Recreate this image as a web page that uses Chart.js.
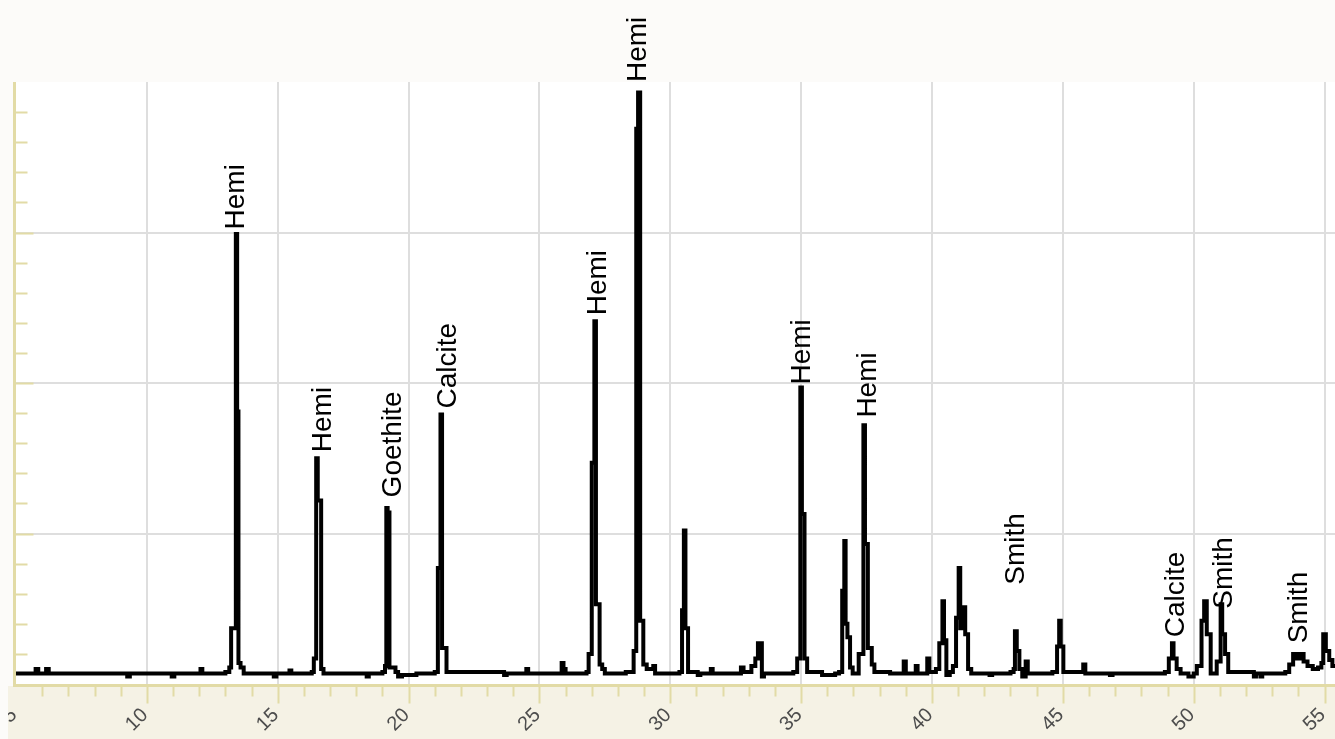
<!DOCTYPE html>
<html>
<head>
<meta charset="utf-8">
<script src="https://cdn.jsdelivr.net/npm/chart.js@4.4.1/dist/chart.umd.min.js"></script>
<style>
  html, body { margin: 0; padding: 0; background: #fcfbf9; }
  #wrap { width: 1335px; height: 739px; }
</style>
</head>
<body>
<div id="wrap"><canvas id="myChart" width="1335" height="739"></canvas></div>
<script>
// 2-theta (deg) where each level starts, and the counts held from there
const twoTheta = [
  5.0, 5.75, 5.85, 6.15, 6.25, 9.25, 9.35, 10.95, 11.05, 12.05, 12.12, 13.0,
  13.15, 13.22, 13.4, 13.45, 13.5, 13.58, 13.7,
  14.85, 14.95, 15.45, 15.52, 16.3,
  16.38, 16.47, 16.53, 16.66, 16.75,
  18.4, 18.48, 19.0,
  19.1, 19.15, 19.2, 19.27, 19.4, 19.5, 19.6, 19.75, 20.3, 21.0,
  21.12, 21.22, 21.28, 21.45,
  23.65, 23.75, 24.5, 24.57, 25.85, 25.92, 26.0, 26.8,
  26.88, 27.0, 27.1, 27.16, 27.3, 27.4, 27.5,
  28.3, 28.6, 28.7, 28.77, 28.85, 28.97, 29.1, 29.35, 29.42,
  30.35, 30.45, 30.52, 30.58, 30.68,
  31.05, 31.15, 31.55, 31.62, 32.7, 32.8,
  33.1, 33.25, 33.35, 33.5, 33.58,
  34.7, 34.85, 34.97, 35.03, 35.13, 35.23,
  35.8, 36.3, 36.45,
  36.57, 36.65, 36.7, 36.77, 36.87, 36.97,
  37.2, 37.38, 37.44, 37.55, 37.7, 37.8,
  38.4, 38.92, 39.0, 39.38, 39.45, 39.82, 39.9,
  40.15, 40.28, 40.4, 40.46, 40.55, 40.68,
  40.8, 40.92, 41.02, 41.08, 41.2, 41.27, 41.38, 41.5,
  42.2, 42.3, 43.0,
  43.12, 43.17, 43.24, 43.34, 43.45, 43.58, 43.66,
  44.6, 44.78, 44.86, 44.92, 45.02,
  45.78, 45.86, 46.8, 46.9, 48.9,
  49.05, 49.17, 49.23, 49.35, 49.5, 49.8, 50.0,
  50.12, 50.3, 50.4, 50.5, 50.65, 50.88, 51.03, 51.09, 51.2, 51.32,
  52.3, 52.38, 52.55, 52.62, 53.5,
  53.65, 53.8, 53.95, 54.1, 54.2, 54.35, 54.55, 54.75, 54.88,
  54.95, 55.05, 55.18, 55.3, 55.4
];
const counts = [
  7, 10, 7, 10, 7, 5, 7, 5, 7, 10, 7, 8,
  11, 37, 299, 181, 14, 11, 7,
  5, 7, 9, 7, 8,
  17, 150, 122, 10, 7,
  5, 7, 8,
  12, 117, 114, 11, 11, 8, 5, 6, 7, 8,
  77, 179, 24, 8,
  6, 7, 10, 7, 14, 10, 7, 8,
  20, 147, 241, 53, 13, 10, 7,
  8, 22, 369, 393, 42, 13, 10, 12, 7,
  8, 49, 102, 37, 8,
  6, 7, 10, 7, 11, 8,
  12, 17, 27, 5, 7,
  8, 17, 197, 113, 17, 8,
  6, 7, 8,
  62, 95, 40, 31, 11, 7,
  20, 172, 93, 24, 13, 8,
  7, 15, 7, 12, 7, 17, 8,
  10, 27, 55, 29, 6, 8,
  12, 44, 77, 37, 51, 33, 10, 7,
  6, 7, 8,
  10, 35, 22, 10, 5, 15, 7,
  8, 25, 42, 25, 8,
  13, 7, 6, 7, 8,
  17, 27, 17, 10, 7, 5, 7,
  12, 42, 55, 33, 7, 15, 53, 33, 20, 8,
  5, 7, 5, 7, 8,
  13, 20, 17, 20, 15, 12, 10, 11, 14,
  33, 22, 16, 12, 12
];

// phase labels: name, 2-theta of label, count level where the text starts
const phaseNames = ['Hemi', 'Hemi', 'Goethite', 'Calcite', 'Hemi', 'Hemi', 'Hemi', 'Hemi', 'Smith', 'Calcite', 'Smith', 'Smith'];
const phaseX = [13.33, 16.65, 19.32, 21.42, 27.15, 28.68, 34.95, 37.47, 43.12, 49.23, 51.07, 53.93];
const phaseY = [302, 154, 124, 183, 245, 400, 199, 177, 66, 31, 50, 27];

const xTickLabels = ['5', '10', '15', '20', '25', '30', '35', '40', '45', '50', '55'];

const AXIS_COLOR = '#e2dba6';

const decorPlugin = {
  id: 'decor',
  beforeDraw(chart) {
    const ctx = chart.ctx;
    const a = chart.chartArea;
    ctx.save();
    ctx.fillStyle = '#fcfbf9';
    ctx.fillRect(0, 0, chart.width, chart.height);
    ctx.fillStyle = '#ffffff';
    ctx.fillRect(a.left, a.top, a.right - a.left, a.bottom - a.top);
    ctx.fillStyle = '#f5f2e5';
    ctx.fillRect(8, a.bottom + 2, chart.width - 8, chart.height - a.bottom);
    ctx.restore();
  },
  afterDatasetsDraw(chart) {
    const ctx = chart.ctx;
    const xs = chart.scales.x;
    const ys = chart.scales.y;
    ctx.save();
    ctx.fillStyle = '#000';
    ctx.font = '28px "Liberation Sans", Arial, sans-serif';
    ctx.textAlign = 'left';
    ctx.textBaseline = 'alphabetic';
    phaseNames.forEach((name, i) => {
      const px = xs.getPixelForValue(phaseX[i]);
      const py = ys.getPixelForValue(phaseY[i]);
      ctx.save();
      ctx.translate(px + 10, py);
      ctx.rotate(-Math.PI / 2);
      ctx.fillText(name, 0, 0);
      ctx.restore();
    });
    ctx.restore();
  },
  afterDraw(chart) {
    const ctx = chart.ctx;
    const a = chart.chartArea;
    const xs = chart.scales.x;
    const ys = chart.scales.y;
    const axisY = a.bottom + 1.5;
    const axisX = a.left - 1.5;
    ctx.save();
    ctx.strokeStyle = AXIS_COLOR;
    ctx.lineWidth = 3;
    ctx.beginPath();
    ctx.moveTo(axisX, a.top);
    ctx.lineTo(axisX, axisY + 1.5);
    ctx.moveTo(axisX - 1.5, axisY);
    ctx.lineTo(chart.width, axisY);
    ctx.stroke();

    // y ticks point into the plot
    ctx.lineWidth = 2;
    ctx.beginPath();
    for (let v = 20; v < 400; v += 20) {
      const py = Math.round(ys.getPixelForValue(v)) + 0.5;
      const len = v % 100 === 0 ? 19 : 13;
      ctx.moveTo(axisX, py);
      ctx.lineTo(axisX + len, py);
    }
    // x ticks point down
    for (let t = 6; t <= 55; t++) {
      const px = Math.round(xs.getPixelForValue(t)) + 0.5;
      const len = t % 5 === 0 ? 18 : 11;
      ctx.moveTo(px, axisY);
      ctx.lineTo(px, axisY + len);
    }
    ctx.stroke();

    ctx.beginPath();
    ctx.rect(8, a.bottom, chart.width - 8, chart.height - a.bottom);
    ctx.clip();
    ctx.fillStyle = '#4d4d4d';
    ctx.font = '20px "Liberation Sans", Arial, sans-serif';
    ctx.textAlign = 'right';
    ctx.textBaseline = 'middle';
    xTickLabels.forEach((lab) => {
      const px = xs.getPixelForValue(Number(lab));
      ctx.save();
      ctx.translate(px - 2, 712);
      ctx.rotate(-Math.PI / 4);
      ctx.fillText(lab, 0, 0);
      ctx.restore();
    });
    ctx.restore();
  }
};

function generateChart(target) {
  const points = twoTheta.map((t, i) => ({ x: t, y: counts[i] }));
  const chart = new Chart(target, {
    type: 'line',
    data: {
      datasets: [{
        data: points,
        borderColor: '#000',
        borderWidth: 4,
        pointRadius: 0,
        stepped: true,
        fill: false
      }]
    },
    options: {
      responsive: false,
      devicePixelRatio: 1,
      animation: false,
      layout: { padding: { left: 16, top: 82, right: 0, bottom: 55 } },
      plugins: { legend: { display: false }, tooltip: { enabled: false } },
      scales: {
        x: {
          type: 'linear',
          min: 5,
          max: 55.4,
          border: { display: false },
          ticks: { display: false, stepSize: 5, includeBounds: false },
          grid: {
            drawTicks: false,
            lineWidth: 2,
            color: (c) => (c.tick && c.tick.value === 5 ? 'rgba(0,0,0,0)' : '#dedede')
          }
        },
        y: {
          min: 0,
          max: 400,
          border: { display: false },
          ticks: { display: false, stepSize: 100 },
          grid: {
            drawTicks: false,
            lineWidth: 2,
            color: (c) => (c.tick && (c.tick.value === 0 || c.tick.value === 400) ? 'rgba(0,0,0,0)' : '#dedede')
          }
        }
      }
    },
    plugins: [decorPlugin]
  });
  return chart;
}

document.addEventListener('DOMContentLoaded', () => {
  generateChart(document.querySelector('#myChart'));
});
</script>
</body>
</html>
